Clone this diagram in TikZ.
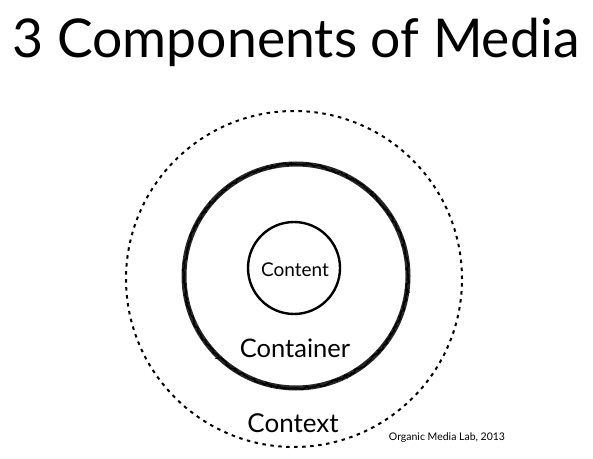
\documentclass[tikz,border=0pt]{standalone}
\usepackage{fontspec}
\setmainfont{Lato}
\usepackage{xcolor}
\usetikzlibrary{decorations.pathmorphing}

\tikzset{
  ring/.style={circle, draw, inner sep=0pt},
  label/.style={anchor=base, inner sep=0pt},
}

\begin{document}
\begin{tikzpicture}[x=1pt,y=1pt]
    \useasboundingbox (0,0) rectangle (593,458);
    % Title
    \node[label] (title) at (296,400) {\fontsize{53.5}{60}\selectfont 3 Components of Media};
    % Circles
    \node[ring, minimum size=336pt, line width=2pt, dash pattern=on 3.5pt off 4.5pt] (context) at (294,179) {};
    \node[ring, minimum size=224pt, line width=5pt, draw=black!85] (container) at (296,182) {};
    \draw[line width=1.6pt, decorate, decoration={random steps, segment length=2pt, amplitude=1.4pt}] (container.center) circle (112pt);
    \node[ring, minimum size=92pt, line width=2.4pt] (content) at (294,190) {};
    % Labels
    \node[label] (contentlbl) at (295,181.5) {\fontsize{19}{23}\selectfont Content};
    \node[label] (containerlbl) at (295,101) {\fontsize{25.5}{29}\selectfont Container};
    \node[label] (contextlbl) at (293,26) {\fontsize{26}{30}\selectfont Context};
    \node[label] (credit) at (447,18) {\fontsize{10.5}{12}\selectfont Organic Media Lab, 2013};
\end{tikzpicture}
\end{document}
